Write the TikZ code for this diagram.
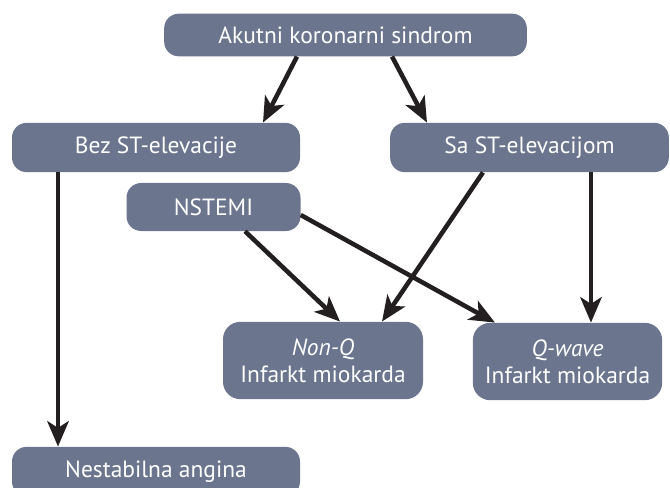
\documentclass[tikz,border=0pt]{standalone}
\usepackage{fontspec}
\setmainfont{PT Sans}
\usetikzlibrary{arrows.meta, positioning}
\definecolor{boxFill}{RGB}{107, 117, 141}
\definecolor{edgeColor}{RGB}{35, 31, 32}
\tikzset{
    acs_box/.style={
        rectangle,
        rounded corners=11pt,
        fill=boxFill,
        text=white,
        align=center,
        inner sep=0pt,
        minimum height=37pt,
        font=\fontsize{17.6}{20}\selectfont
    },
    acs_edge/.style={
        -{Stealth[length=19pt, width=16pt, inset=5pt]},
        line width=3.4pt,
        draw=edgeColor
    }
}

\begin{document}
\begin{tikzpicture}[x=0.75pt, y=-0.75pt]
    \useasboundingbox (0,0) rectangle (670,488);

    \node[acs_box, minimum width=272pt, minimum height=32pt] (akutni) at (345.5,35) {Akutni koronarni sindrom};
    \node[acs_box, minimum width=216pt] (bez) at (156,147.5) {Bez ST-elevacije};
    \node[acs_box, minimum width=209pt] (sa) at (529.5,147.5) {Sa ST-elevacijom};
    \node[acs_box, minimum width=130.5pt, minimum height=36pt] (nstemi) at (213.5,207) {NSTEMI};
    \node[acs_box, minimum width=150pt, minimum height=58pt, rounded corners=13pt] (nonq) at (323,360.5) {\textit{Non-Q}\\Infarkt miokarda};
    \node[acs_box, minimum width=142pt, minimum height=58pt, rounded corners=13pt] (qwave) at (567.5,361.5) {\textit{Q-wave}\\Infarkt miokarda};
    \node[acs_box, minimum width=216pt] (nestabilna) at (156,471.5) {Nestabilna angina};

    \draw[acs_edge] ([xshift=-36.4pt]akutni.south) -- ([xshift=80.25pt]bez.north);
    \draw[acs_edge] ([xshift=34.9pt]akutni.south) -- ([xshift=-76.9pt]sa.north);
    \draw[acs_edge] ([xshift=-73.5pt]bez.south) -- ([xshift=-73.5pt]nestabilna.north);
    \draw[acs_edge] ([xshift=23.6pt]nstemi.south) -- ([xshift=12.75pt]nonq.north);
    \draw[acs_edge] ([yshift=-6pt]nstemi.east) -- ([xshift=-54.4pt]qwave.north);
    \draw[acs_edge] ([xshift=-34.9pt]sa.south) -- ([xshift=44.25pt]nonq.north);
    \draw[acs_edge] ([xshift=46.1pt]sa.south) -- ([xshift=17.6pt]qwave.north);
\end{tikzpicture}
\end{document}
